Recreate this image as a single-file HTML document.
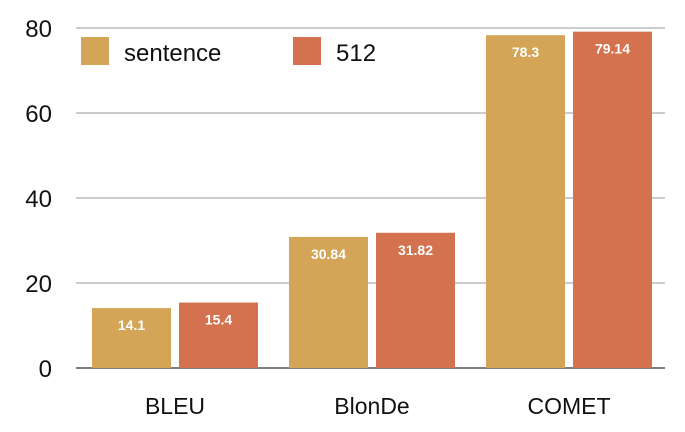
<!DOCTYPE html>
<html><head><meta charset="utf-8"><style>
body{margin:0;background:#fff;}
svg{display:block;font-family:"Liberation Sans",sans-serif;}
</style></head><body>
<svg id="chart" width="685" height="432" viewBox="0 0 685 432"></svg>
<script>
const categories = ["BLEU", "BlonDe", "COMET"];
const seriesNames = ["sentence", "512"];
const sentenceValues = [14.1, 30.84, 78.3];
const values512 = [15.4, 31.82, 79.14];
const valueLabels = [["14.1", "30.84", "78.3"], ["15.4", "31.82", "79.14"]];
const yTicks = [0, 20, 40, 60, 80];

const NS = "http://www.w3.org/2000/svg";
const svg = document.getElementById("chart");
const colors = ["#D4A556", "#D4714E"];
const y0 = 368, y80 = 28, left = 76, right = 665;
function yScale(v){ return y0 - (v / 80) * (y0 - y80); }
const groupStarts = [92, 289, 486];
const barW = 79, gap = 8;
function xBar(ci, si){ return groupStarts[ci] + si * (barW + gap); }
function mk(tag, attrs, text){
  const e = document.createElementNS(NS, tag);
  for (const k in attrs) e.setAttribute(k, attrs[k]);
  if (text !== undefined) e.textContent = text;
  svg.appendChild(e);
  return e;
}
yTicks.forEach(t => {
  const y = yScale(t);
  const g = mk("line", {x1: left, x2: right, y1: y, y2: y, stroke: t === 0 ? "#555" : "#999", "stroke-width": t === 0 ? 1.5 : 1});
  
  
  const l = mk("text", {x: 52, y: y + 9, "text-anchor": "end", "font-size": 24, fill: "#111"}, String(t));
  
  
});
const series = [sentenceValues, values512];
series.forEach((vals, si) => {
  vals.forEach((v, ci) => {
    const x = xBar(ci, si), y = yScale(v);
    const r = mk("rect", {x: x, y: y, width: barW, height: y0 - y, fill: colors[si]});
    
    
    const t = mk("text", {x: x + barW / 2, y: y + 22, "text-anchor": "middle", "font-size": 14, "font-weight": "bold", fill: "#fff"}, valueLabels[si][ci]);
    
    
  });
});
categories.forEach((c, ci) => {
  const cx = groupStarts[ci] + barW + gap / 2;
  const t = mk("text", {x: cx, y: 414, "text-anchor": "middle", "font-size": 23, fill: "#111"}, c);
  
  
});
const legendX = [81, 293];
seriesNames.forEach((n, si) => {
  const r = mk("rect", {x: legendX[si], y: 37, width: 28, height: 28, fill: colors[si]});
  
  
  const t = mk("text", {x: legendX[si] + 43, y: 61, "font-size": 24, fill: "#111"}, n);
  
  
});
</script>
</body></html>
